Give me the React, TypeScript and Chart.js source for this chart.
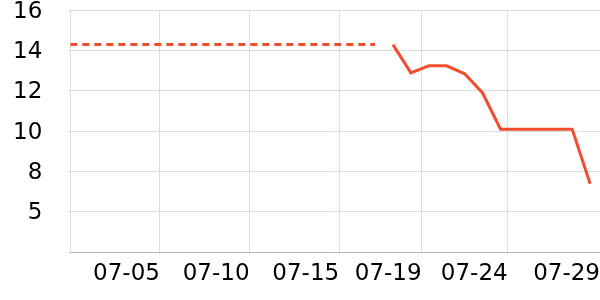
import React, { useEffect, useRef } from 'react';
import { Chart, registerables } from 'chart.js';

Chart.register(...registerables);

// Day index along the x axis (0 = left edge)
const dashedDays = [0, 1, 2, 3, 4, 5, 6, 7, 8, 9, 10, 11, 12, 13, 14, 15, 16, 17];
const dashedValues = [14.3, 14.3, 14.3, 14.3, 14.3, 14.3, 14.3, 14.3, 14.3, 14.3, 14.3, 14.3, 14.3, 14.3, 14.3, 14.3, 14.3, 14.3];

const solidDays = [18, 19, 20, 21, 22, 23, 24, 25, 26, 27, 28, 29];
const solidValues = [14.3, 12.9, 13.25, 13.25, 12.85, 11.9, 10.1, 10.1, 10.1, 10.1, 10.1, 7.4];

const xTickPositions = [0, 5, 10, 15, 19.6, 24.4, 29.55];
const xTickLabels = ['', '07-05', '07-10', '07-15', '07-19', '07-24', '07-29'];

const yTickValues = [4, 6, 8, 10, 12, 14, 16];
const yTickLabels = ['', '5', '8', '10', '12', '14', '16'];

const LINE_COLOR = '#ef4f2f';
const GRID_COLOR = '#dcdcdc';
const FONT = { family: '"DejaVu Sans", sans-serif', size: 23 };

export default function App() {
  const canvasRef = useRef<HTMLCanvasElement | null>(null);

  useEffect(() => {
    if (!canvasRef.current) return;
    const chart = new Chart(canvasRef.current, {
      type: 'line',
      data: {
        datasets: [
          {
            data: dashedDays.map((d, i) => ({ x: d, y: dashedValues[i] })),
            borderColor: LINE_COLOR,
            borderWidth: 3,
            borderDash: [7, 5],
            pointRadius: 0,
            tension: 0,
            fill: false,
          },
          {
            data: solidDays.map((d, i) => ({ x: d, y: solidValues[i] })),
            borderColor: LINE_COLOR,
            borderWidth: 3,
            pointRadius: 0,
            tension: 0,
            fill: false,
          },
        ],
      },
      options: {
        animation: false,
        responsive: true,
        maintainAspectRatio: false,
        layout: { padding: { left: 0, right: 0, top: 0, bottom: 0 } },
        plugins: { legend: { display: false }, tooltip: { enabled: false } },
        scales: {
          x: {
            type: 'linear',
            min: xTickPositions[0],
            max: xTickPositions[xTickPositions.length - 1],
            afterBuildTicks: (scale: any) => {
              scale.ticks = xTickPositions.map((v) => ({ value: v }));
            },
            afterFit: (scale: any) => {
              scale.height = 47.7;
              scale.paddingLeft = 0;
              scale.paddingRight = 0;
            },
            grid: { color: GRID_COLOR, tickLength: 2, lineWidth: 1 },
            border: { color: '#b4b4b4' },
            ticks: {
              autoSkip: false,
              maxRotation: 0,
              align: 'end',
              padding: 6,
              color: '#000',
              font: FONT,
              callback: (_v: any, i: number) => xTickLabels[i],
            },
          },
          y: {
            type: 'linear',
            min: yTickValues[0],
            max: yTickValues[yTickValues.length - 1],
            afterBuildTicks: (scale: any) => {
              scale.ticks = yTickValues.map((v) => ({ value: v }));
            },
            afterFit: (scale: any) => {
              scale.width = 70.3;
              scale.paddingTop = 10.3;
              scale.paddingBottom = 0;
            },
            grid: { color: GRID_COLOR, tickLength: 2, lineWidth: 1 },
            border: { color: GRID_COLOR },
            ticks: {
              padding: 26,
              labelOffset: 1.5,
              color: '#000',
              font: FONT,
              callback: (_v: any, i: number) => yTickLabels[i],
            },
          },
        },
      } as any,
    });
    return () => chart.destroy();
  }, []);

  return (
    <div style={{ position: 'absolute', left: 0, top: 0, width: 600, height: 300 }}>
      <canvas ref={canvasRef} />
    </div>
  );
}
